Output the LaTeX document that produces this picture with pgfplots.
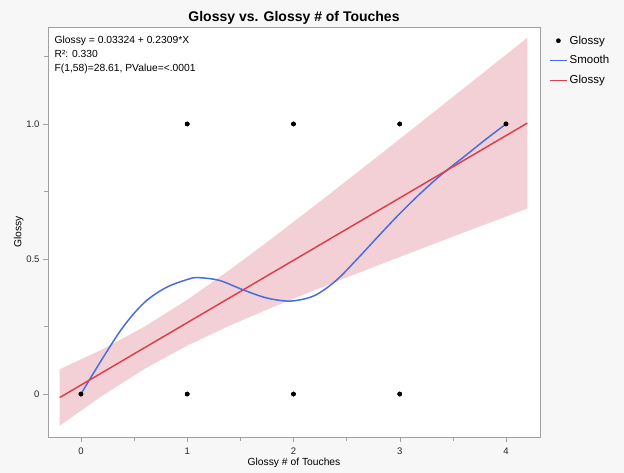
\documentclass[border=0pt]{standalone}
\usepackage{fontspec}
\setmainfont{Liberation Sans}
\usepackage{pgfplots}
\pgfplotsset{compat=1.18}
\definecolor{bgc}{RGB}{247,247,247}
\definecolor{framegray}{RGB}{160,160,160}
\definecolor{smoothblue}{RGB}{72,110,222}
\definecolor{fitred}{RGB}{220,64,78}
\definecolor{bandpink}{RGB}{243,208,214}
\begin{document}
\begin{tikzpicture}
\fill[bgc] (0,0) rectangle (624pt,473pt);
\begin{axis}[
  at={(48pt,36pt)}, anchor=south west,
  scale only axis, width=492pt, height=410pt,
  xmin=-0.31, xmax=4.32, ymin=-0.159, ymax=1.359,
  axis background/.style={fill=white},
  axis line style={draw=framegray},
  xtick={0,1,2,3,4}, minor xtick={0.5,1.5,2.5,3.5},
  ytick={0,0.5,1}, yticklabels={0,0.5,1.0}, minor ytick={0.25,0.75,1.25},
  tick pos=left, tick align=outside,
  major tick length=5pt, minor tick length=4pt,
  every tick/.style={draw=framegray},
  /pgf/number format/assume math mode=true,
  tick label style={font=\fontsize{9.5}{10}\selectfont, text=black!85},
  xticklabel style={yshift=-2pt},
  xlabel={Glossy \# of Touches}, ylabel={Glossy},
  label style={font=\fontsize{10.3}{11}\selectfont},
  xlabel style={yshift=3pt},
  ylabel style={yshift=-4pt},
  title={\bfseries Glossy vs. Glossy \# of Touches},
  title style={font=\fontsize{14}{16}\selectfont, yshift=-7pt},
  legend style={at={(1.012,0.990)}, anchor=north west, draw=none, fill=none,
    font=\fontsize{11.5}{13}\selectfont, row sep=5pt,
    nodes={inner ysep=2.5pt}},
  legend cell align=left,
  clip=true,
]
\addplot[draw=none, fill=bandpink, forget plot] coordinates {
(-0.2,0.0917) (0.2,0.1651) (0.6,0.2499) (1.0,0.3489) (1.4,0.4595) (1.8,0.5768)
(2.2,0.6976) (2.6,0.8204) (3.0,0.9442) (3.4,1.0688) (3.8,1.1939) (4.2,1.3192)
(4.2,0.6868) (3.8,0.6275) (3.4,0.5678) (3.0,0.5076) (2.6,0.4468) (2.2,0.3848)
(1.8,0.3210) (1.4,0.2535) (1.0,0.1793) (0.6,0.0937) (0.2,-0.0063) (-0.2,-0.1175)
} --cycle;
\addplot[only marks, mark=*, mark size=2.1pt, black] coordinates {
(0,0) (1,0) (2,0) (3,0) (1,1) (2,1) (3,1) (4,1)
};
\addlegendentry{Glossy}
\addplot[color=smoothblue, line width=1.5pt, smooth, tension=0.55, no marks] coordinates {
(0,0) (0.2,0.13) (0.4,0.25) (0.6,0.34) (0.8,0.394) (1.0,0.424) (1.1,0.431)
(1.3,0.421) (1.5,0.39) (1.7,0.361) (1.85,0.348) (2.0,0.345) (2.2,0.365)
(2.4,0.42) (2.6,0.5) (2.8,0.585) (3.0,0.668) (3.2,0.745) (3.4,0.815)
(3.6,0.877) (3.8,0.94) (4.0,1.0)
};
\addlegendentry{Smooth}
\addplot[color=fitred, line width=1.5pt, no marks] coordinates {(-0.2,-0.01294) (4.2,1.00302)};
\addlegendentry{Glossy}
\addplot[only marks, mark=*, mark size=2.1pt, black, forget plot] coordinates {
(0,0) (1,0) (2,0) (3,0) (1,1) (2,1) (3,1) (4,1)
};
\node[anchor=north west, align=left, font=\fontsize{10.3}{14}\selectfont, inner sep=0pt]
  at (rel axis cs:0.013,0.978) {Glossy = 0.03324 + 0.2309*X\\R²: 0.330\\F(1,58)=28.61, PValue=<.0001};
\end{axis}
\end{tikzpicture}
\end{document}
